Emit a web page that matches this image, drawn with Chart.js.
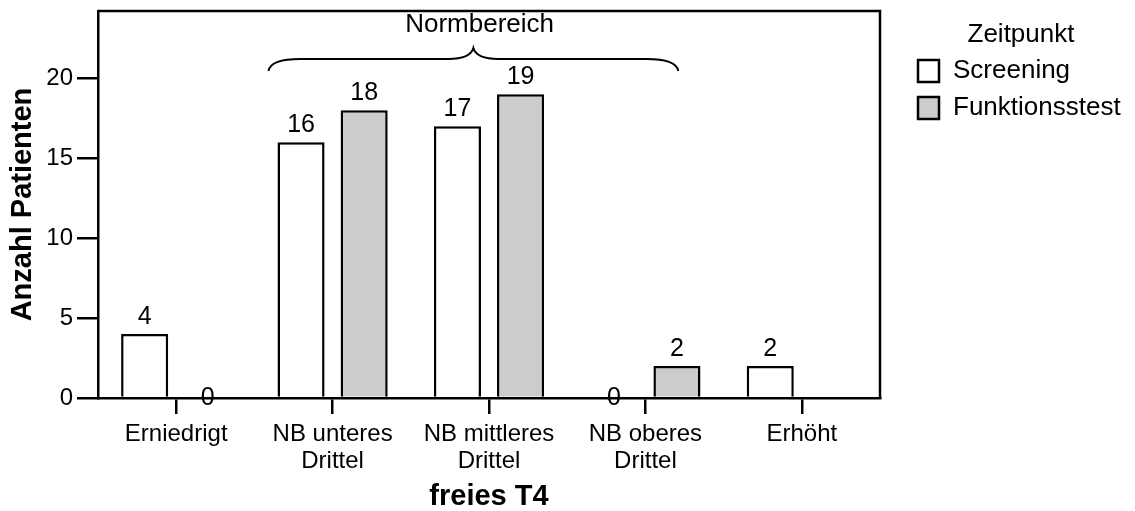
<!DOCTYPE html>
<html>
<head>
<meta charset="utf-8">
<script src="https://cdn.jsdelivr.net/npm/chart.js@4.4.1/dist/chart.umd.min.js"></script>
<style>
body { margin: 0; background: #fff; }
</style>
</head>
<body>
<canvas id="grafico" width="1135" height="511"></canvas>
<script>
// Daten
const kategorien = ['Erniedrigt', ['NB unteres', 'Drittel'], ['NB mittleres', 'Drittel'], ['NB oberes', 'Drittel'], 'Erhöht'];
const screening = [4, 16, 17, 0, 2];
const funktionstest = [0, 18, 19, 2, null];
const yTicks = [0, 5, 10, 15, 20];
const legendeTitel = 'Zeitpunkt';
const klammerText = 'Normbereich';

// Klammer über dem Normbereich (in Achsenwerten)
const klammerVon = 0.59, klammerBis = 3.21, klammerHoehe = 21.2, klammerTextX = 1.94, klammerTextY = 23.35;

const schrift = "'Liberation Sans', Arial, sans-serif";
Chart.defaults.font.family = schrift;
Chart.defaults.color = '#000';

const rahmen = {
    id: 'rahmen',
    afterDraw(chart) {
        const { ctx, chartArea: a } = chart;
        ctx.save();
        ctx.strokeStyle = '#000';
        ctx.lineWidth = 2.5;
        ctx.beginPath();
        ctx.moveTo(a.left, a.top);
        ctx.lineTo(a.right, a.top);
        ctx.lineTo(a.right, a.bottom);
        ctx.stroke();
        ctx.restore();
    }
};

const werte = {
    id: 'werte',
    afterDatasetsDraw(chart) {
        const ctx = chart.ctx;
        ctx.save();
        ctx.font = '25px ' + schrift;
        ctx.fillStyle = '#000';
        ctx.textAlign = 'center';
        ctx.textBaseline = 'alphabetic';
        chart.data.datasets.forEach((ds, i) => {
            chart.getDatasetMeta(i).data.forEach((bar, j) => {
                const v = ds.data[j];
                if (v === null) return;
                const y = v === 0 ? bar.base + 7 : bar.y - 10;
                ctx.fillText(String(v), bar.x, y);
            });
        });
        ctx.restore();
    }
};

const klammer = {
    id: 'klammer',
    afterDraw(chart) {
        const { ctx, scales: { x, y } } = chart;
        const x0 = x.getPixelForValue(klammerVon);
        const x1 = x.getPixelForValue(klammerBis);
        const xm = (x0 + x1) / 2;
        const yl = y.getPixelForValue(klammerHoehe);
        ctx.save();
        ctx.strokeStyle = '#000';
        ctx.lineWidth = 2;
        ctx.beginPath();
        ctx.moveTo(x0, yl + 12);
        ctx.quadraticCurveTo(x0 + 2, yl, x0 + 32, yl);
        ctx.lineTo(xm - 25, yl);
        ctx.quadraticCurveTo(xm - 3, yl, xm, yl - 11);
        ctx.quadraticCurveTo(xm + 3, yl, xm + 25, yl);
        ctx.lineTo(x1 - 32, yl);
        ctx.quadraticCurveTo(x1 - 2, yl, x1, yl + 12);
        ctx.stroke();
        ctx.font = '26px ' + schrift;
        ctx.fillStyle = '#000';
        ctx.textAlign = 'center';
        ctx.textBaseline = 'middle';
        ctx.fillText(klammerText, x.getPixelForValue(klammerTextX), y.getPixelForValue(klammerTextY));
        ctx.restore();
    }
};

const legende = {
    id: 'legende',
    afterDraw(chart) {
        const ctx = chart.ctx;
        ctx.save();
        ctx.font = '26px ' + schrift;
        ctx.fillStyle = '#000';
        ctx.textBaseline = 'middle';
        ctx.textAlign = 'center';
        ctx.fillText(legendeTitel, 1021, 35);
        ctx.textAlign = 'left';
        chart.data.datasets.forEach((ds, i) => {
            const yy = 71 + i * 37;
            ctx.fillStyle = ds.backgroundColor;
            ctx.fillRect(918, yy - 11, 21, 22);
            ctx.lineWidth = 2.5;
            ctx.strokeStyle = '#000';
            ctx.strokeRect(918, yy - 11, 21, 22);
            ctx.fillStyle = '#000';
            ctx.fillText(ds.label, 953, yy);
        });
        ctx.restore();
    }
};

const config = {
    type: 'bar',
    data: {
        labels: kategorien,
        datasets: [{
            label: 'Screening',
            data: screening,
            backgroundColor: '#ffffff',
            borderColor: '#000',
            borderWidth: 2.5,
            categoryPercentage: 0.807,
            barPercentage: 0.746
        }, {
            label: 'Funktionsstest',
            data: funktionstest,
            backgroundColor: '#cccccc',
            borderColor: '#000',
            borderWidth: 2.5,
            categoryPercentage: 0.807,
            barPercentage: 0.746
        }]
    },
    options: {
        responsive: false,
        animation: false,
        layout: {
            padding: { top: 11, right: 255, left: 0, bottom: 0 }
        },
        plugins: {
            legend: { display: false },
            tooltip: { enabled: false }
        },
        scales: {
            x: {
                offset: true,
                grid: {
                    drawOnChartArea: false,
                    offset: false,
                    tickLength: 16,
                    lineWidth: 2.5,
                    color: '#000'
                },
                border: { display: true, color: '#000', width: 2.5 },
                ticks: {
                    font: { size: 24, lineHeight: 1.125 },
                    padding: 7,
                    maxRotation: 0,
                    autoSkip: false
                },
                title: {
                    display: true,
                    text: 'freies T4',
                    font: { size: 29, weight: 'bold', lineHeight: 1 },
                    padding: { top: 0, bottom: 0 }
                },
                afterFit(s) {
                    s.height = 113;
                    s.paddingLeft = 0;
                    s.paddingRight = 0;
                }
            },
            y: {
                min: 0,
                max: 24.2,
                afterBuildTicks(s) { s.ticks = yTicks.map(v => ({ value: v })); },
                grid: {
                    drawOnChartArea: false,
                    tickLength: 21,
                    lineWidth: 2.5,
                    color: '#000'
                },
                border: { display: true, color: '#000', width: 2.5 },
                ticks: {
                    font: { size: 24 },
                    padding: 4
                },
                title: {
                    display: true,
                    text: 'Anzahl Patienten',
                    font: { size: 29, weight: 'bold', lineHeight: 1 },
                    padding: { top: 8, bottom: 0 }
                },
                afterFit(s) {
                    s.width = 98;
                    s.paddingTop = 0;
                    s.paddingBottom = 0;
                }
            }
        }
    },
    plugins: [werte, rahmen, klammer, legende]
};

const grafico = new Chart(document.getElementById('grafico'), config);
</script>
</body>
</html>
